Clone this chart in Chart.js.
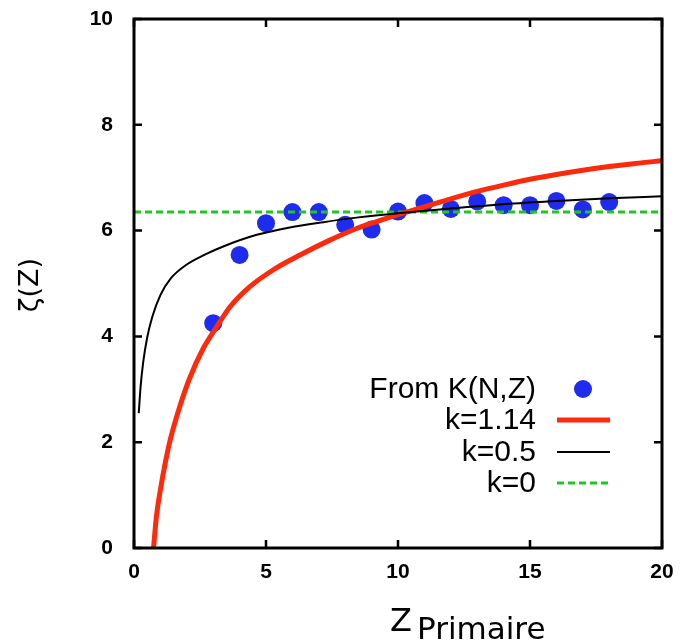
<!DOCTYPE html>
<html>
<head>
<meta charset="utf-8">
<script src="https://cdn.jsdelivr.net/npm/chart.js@4"></script>
<style>
  html, body { margin: 0; padding: 0; background: #fff; }
  #wrap { width: 682px; height: 641px; }
</style>
</head>
<body>
<div id="wrap"><canvas id="chart" width="682" height="641"></canvas></div>
<script>
// ===== data =====
const zPoints = [3, 4, 5, 6, 7, 8, 9, 10, 11, 12, 13, 14, 15, 16, 17, 18];
const zetaPoints = [4.25, 5.54, 6.14, 6.35, 6.35, 6.11, 6.02, 6.36, 6.52, 6.41, 6.55, 6.48, 6.48, 6.56, 6.40, 6.54];

const redX = [0.74, 0.85, 1.0, 1.2, 1.4, 1.75, 2.1, 2.63, 3.13, 3.64, 4.39, 5.28, 6.29, 7.42, 8.43, 9.19, 10, 11, 12, 13, 14, 15, 16, 17, 18, 19, 20];
const redY = [0, 0.6, 1.1, 1.65, 2.1, 2.7, 3.2, 3.78, 4.18, 4.56, 4.94, 5.26, 5.54, 5.82, 6.04, 6.17, 6.3, 6.45, 6.6, 6.74, 6.86, 6.97, 7.06, 7.14, 7.21, 7.27, 7.32];

const blackX = [0.18, 0.25, 0.35, 0.5, 0.7, 1.0, 1.4, 2.0, 2.7, 3.38, 4.65, 5.9, 7.17, 8.5, 10, 12, 14, 16, 18, 20];
const blackY = [2.55, 3.05, 3.52, 3.98, 4.38, 4.78, 5.1, 5.36, 5.55, 5.7, 5.92, 6.06, 6.16, 6.25, 6.33, 6.42, 6.5, 6.56, 6.61, 6.65];

const greenX = [0, 20];
const greenY = [6.35, 6.35];

const legendLabels = ['From K(N,Z)', 'k=1.14', 'k=0.5', 'k=0'];
const xTicks = [0, 5, 10, 15, 20];
const yTicks = [0, 2, 4, 6, 8, 10];

const BLUE = '#1e2cf0';
const RED = '#ff2a0c';
const GREEN = '#1ec81e';

function pairs(xs, ys) {
    return xs.map((x, i) => ({ x: x, y: ys[i] }));
}

// ===== frame, inward ticks, legend, axis titles =====
const decorPlugin = {
    id: 'decor',
    afterDatasetsDraw(chart) {
        const ctx = chart.ctx;
        const a = chart.chartArea;
        const xs = chart.scales.x;
        const ys = chart.scales.y;
        const tick = 8;

        ctx.save();
        ctx.strokeStyle = '#000';
        ctx.lineWidth = 3;
        ctx.strokeRect(a.left, a.top, a.right - a.left, a.bottom - a.top);

        ctx.lineWidth = 2.5;
        ctx.beginPath();
        xTicks.forEach(v => {
            const px = xs.getPixelForValue(v);
            ctx.moveTo(px, a.bottom); ctx.lineTo(px, a.bottom - tick);
            ctx.moveTo(px, a.top); ctx.lineTo(px, a.top + tick);
        });
        yTicks.forEach(v => {
            const py = ys.getPixelForValue(v);
            ctx.moveTo(a.left, py); ctx.lineTo(a.left + tick, py);
            ctx.moveTo(a.right, py); ctx.lineTo(a.right - tick, py);
        });
        ctx.stroke();

        // legend
        const rows = [389, 420, 452, 483];
        ctx.font = '30px "Liberation Sans", Arial, sans-serif';
        ctx.fillStyle = '#000';
        ctx.textAlign = 'right';
        ctx.textBaseline = 'middle';
        legendLabels.forEach((lbl, i) => ctx.fillText(lbl, 536, rows[i] + 1));

        ctx.fillStyle = BLUE;
        ctx.beginPath();
        ctx.arc(583, rows[0], 9, 0, Math.PI * 2);
        ctx.fill();

        ctx.lineCap = 'butt';
        ctx.strokeStyle = RED; ctx.lineWidth = 5;
        ctx.beginPath(); ctx.moveTo(557, rows[1]); ctx.lineTo(610, rows[1]); ctx.stroke();
        ctx.strokeStyle = '#000'; ctx.lineWidth = 2;
        ctx.beginPath(); ctx.moveTo(557, rows[2]); ctx.lineTo(610, rows[2]); ctx.stroke();
        ctx.strokeStyle = GREEN; ctx.lineWidth = 3; ctx.setLineDash([7, 4]);
        ctx.beginPath(); ctx.moveTo(557, rows[3]); ctx.lineTo(610, rows[3]); ctx.stroke();
        ctx.setLineDash([]);

        // axis titles
        ctx.fillStyle = '#000';
        ctx.textAlign = 'left';
        ctx.textBaseline = 'alphabetic';
        ctx.font = '32px "DejaVu Sans", sans-serif';
        ctx.fillText('Z', 390, 631);
        ctx.font = '31px "DejaVu Sans", sans-serif';
        ctx.fillText('Primaire', 417, 639);

        ctx.translate(31, 285);
        ctx.rotate(-Math.PI / 2);
        ctx.textAlign = 'center';
        ctx.textBaseline = 'middle';
        ctx.font = '27px "DejaVu Sans", sans-serif';
        ctx.fillText('ζ(Z)', 0, 0);
        ctx.restore();
    }
};

const tickFont = { family: '"Liberation Sans", Arial, sans-serif', size: 21, weight: 'bold' };

new Chart(document.getElementById('chart'), {
    type: 'scatter',
    data: {
        datasets: [
            {
                label: legendLabels[0],
                data: pairs(zPoints, zetaPoints),
                showLine: false,
                pointRadius: 9,
                pointHoverRadius: 9,
                pointBackgroundColor: BLUE,
                pointBorderWidth: 0,
                order: 4
            },
            {
                label: legendLabels[1],
                data: pairs(redX, redY),
                showLine: true,
                borderColor: RED,
                borderWidth: 5,
                pointRadius: 0,
                cubicInterpolationMode: 'monotone',
                order: 2
            },
            {
                label: legendLabels[2],
                data: pairs(blackX, blackY),
                showLine: true,
                borderColor: '#000',
                borderWidth: 2,
                pointRadius: 0,
                cubicInterpolationMode: 'monotone',
                order: 1
            },
            {
                label: legendLabels[3],
                data: pairs(greenX, greenY),
                showLine: true,
                borderColor: GREEN,
                borderWidth: 3,
                borderDash: [7, 4],
                pointRadius: 0,
                order: 3
            }
        ]
    },
    options: {
        responsive: false,
        animation: false,
        layout: { padding: { top: 19, right: 20, left: 0, bottom: 0 } },
        plugins: {
            legend: { display: false },
            tooltip: { enabled: false }
        },
        scales: {
            x: {
                type: 'linear',
                min: 0,
                max: 20,
                afterBuildTicks: s => { s.ticks = xTicks.map(v => ({ value: v })); },
                afterFit: s => {
                    s.height = 93;
                    s.paddingLeft = 0; s.paddingRight = 0;
                    s.paddingTop = 0; s.paddingBottom = 0;
                },
                grid: { display: false, drawTicks: false },
                border: { display: false },
                ticks: { color: '#000', font: tickFont, padding: 12, maxRotation: 0 }
            },
            y: {
                type: 'linear',
                min: 0,
                max: 10,
                afterBuildTicks: s => { s.ticks = yTicks.map(v => ({ value: v })); },
                afterFit: s => {
                    s.width = 134;
                    s.paddingLeft = 0; s.paddingRight = 0;
                    s.paddingTop = 0; s.paddingBottom = 0;
                },
                grid: { display: false, drawTicks: false },
                border: { display: false },
                ticks: { color: '#000', font: tickFont, padding: 21 }
            }
        }
    },
    plugins: [decorPlugin]
});
</script>
</body>
</html>
